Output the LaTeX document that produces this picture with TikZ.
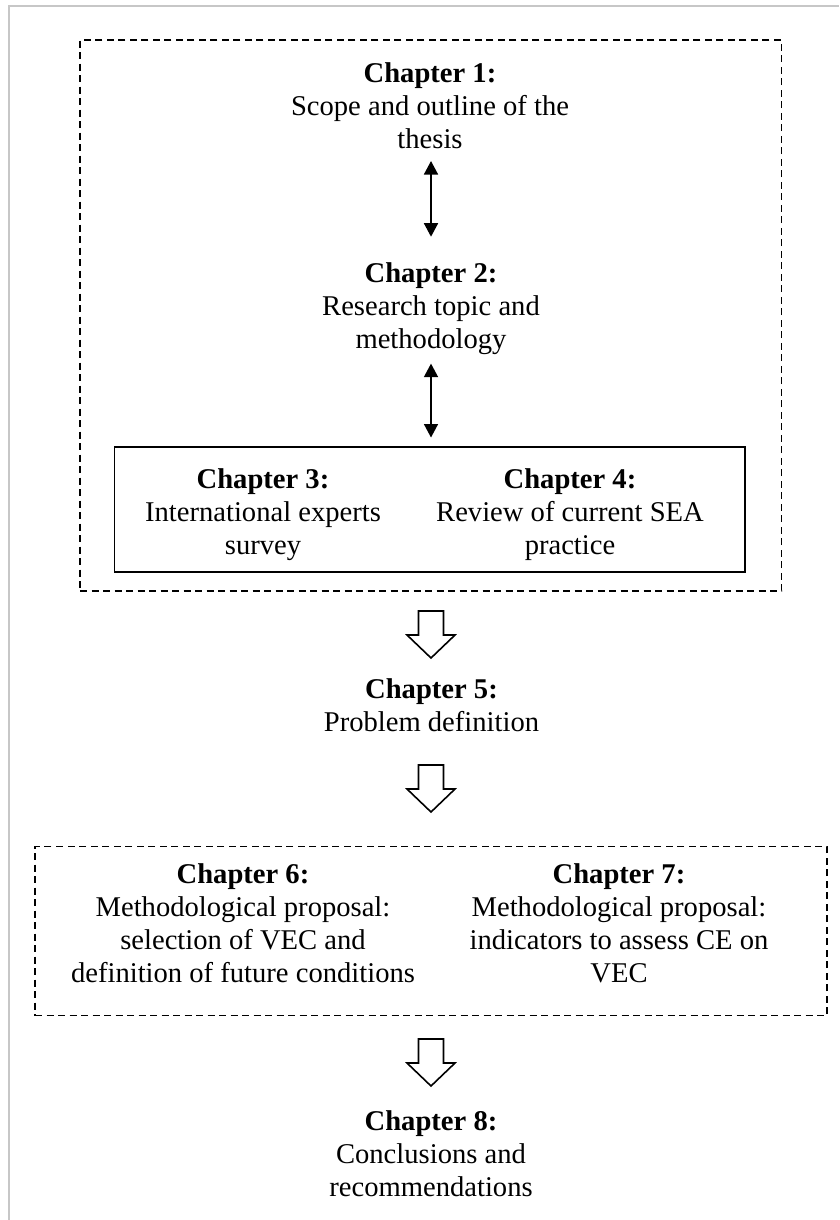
\documentclass[tikz,border=0pt]{standalone}
\usepackage{fontspec}
\setmainfont{Liberation Serif}
\usetikzlibrary{arrows.meta}
\begin{document}
\begin{tikzpicture}[x=1pt,y=-1pt,
  chap/.style={anchor=north, align=center, inner sep=0pt,
    font=\fontsize{28.6pt}{33pt}\selectfont},
  group/.style={draw, dash pattern=on 7pt off 4.5pt, line width=1.5pt,
    inner sep=0pt},
  solidbox/.style={draw, line width=1.6pt, inner sep=0pt},
  twoway/.style={line width=1.6pt,
    {Triangle[length=13.5pt,width=14pt]}-{Triangle[length=13.5pt,width=14pt]}},
  frameline/.style={draw=black!22, line width=2pt},
  blockarrow/.pic={
    \draw[line width=1.6pt, line join=miter, fill=white]
      (-12.5,0) -- (12.5,0) -- (12.5,24) -- (24,24) -- (0,47)
      -- (-24,24) -- (-12.5,24) -- cycle;}
]
\useasboundingbox (0,0) rectangle (839,1220);

% page frame (top and left edges only)
\draw[frameline] (9,1220) -- (9,6) -- (839,6);

% first group: chapters 1-4
\node[group, minimum width=701.7pt, minimum height=551pt] (grp1) at (430.85,315.5) {};
\node[chap] (ch1) at (430,62.1) {\textbf{Chapter 1:}\\Scope and outline of the\\thesis};
\node[chap] (ch2) at (431,262.4) {\textbf{Chapter 2:}\\Research topic and\\methodology};
\node[solidbox, minimum width=630.7pt, minimum height=125pt] (box34) at (429.65,509.2) {};
\node[chap] (ch3) at (263,468.7) {\textbf{Chapter 3:}\\International experts\\survey};
\node[chap] (ch4) at (570,468.7) {\textbf{Chapter 4:}\\Review of current SEA\\practice};

\draw[twoway, shorten <=12.4pt, shorten >=25.7pt] (ch1.south -| 431,0) -- (ch2.north -| 431,0);
\draw[twoway, shorten <=8.8pt, shorten >=8.4pt] (ch2.south -| 431,0) -- (box34.north -| 431,0);

% chapter 5
\pic at (431,611) {blockarrow};
\node[chap] (ch5) at (431.5,678.4) {\textbf{Chapter 5:}\\Problem definition};
\pic at (431,765) {blockarrow};

% second group: chapters 6-7
\node[group, minimum width=792pt, minimum height=169pt] (grp2) at (431,931.2) {};
\node[chap] (ch6) at (243,863.7) {\textbf{Chapter 6:}\\Methodological proposal:\\selection of VEC and\\definition of future conditions};
\node[chap] (ch7) at (619,863.7) {\textbf{Chapter 7:}\\Methodological proposal:\\indicators to assess CE on\\VEC};

% chapter 8
\pic at (431,1039) {blockarrow};
\node[chap] (ch8) at (431,1110.4) {\textbf{Chapter 8:}\\Conclusions and\\recommendations};
\end{tikzpicture}
\end{document}
